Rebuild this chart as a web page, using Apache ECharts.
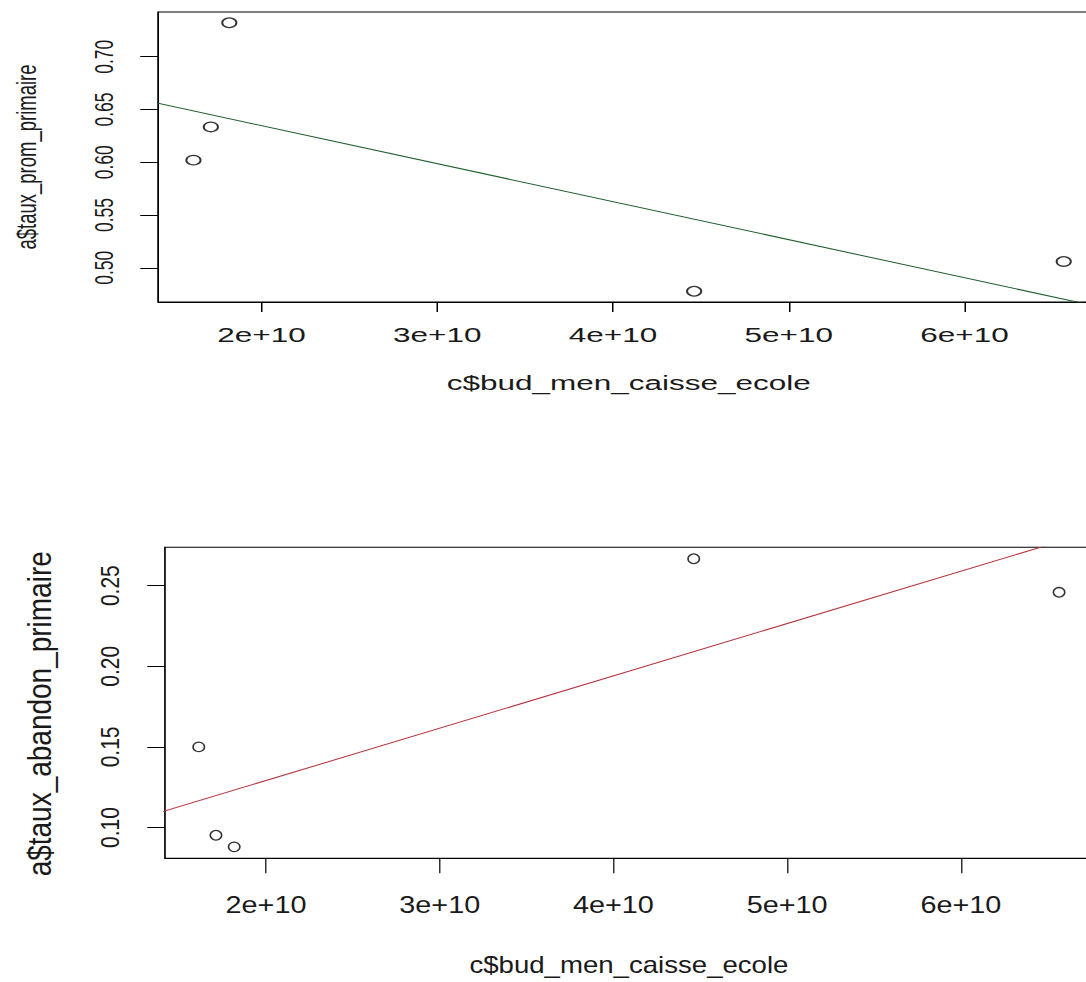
<!DOCTYPE html>
<html>
<head>
<meta charset="utf-8">
<title>bud_men_caisse_ecole</title>
<style>
	html, body { margin: 0; padding: 0; background: #fff; overflow: hidden; }
	#wrap { position: relative; width: 1086px; height: 982px; overflow: hidden; }
	/* the picture is stretched sideways: each chart is drawn narrower, then scaled back */
	.chart { position: absolute; left: 0; transform-origin: 0 0; }
	#chartProm { top: 0; width: 724px; height: 470px; transform: scaleX(1.5); }
	#chartAbandon { top: 470px; width: 905px; height: 512px; transform: scaleX(1.2); }
</style>
<script src="https://cdn.jsdelivr.net/npm/echarts@6.0.0/dist/echarts.min.js"></script>
</head>
<body>
<div id="wrap">
	<div class="chart" id="chartProm"></div>
	<div class="chart" id="chartAbandon"></div>
</div>
<script>
/*******************************/
/*data*/
/*******************************/
//c$bud_men_caisse_ecole (same x for both plots)
var budMen = [1.613e10, 1.712e10, 1.817e10, 4.462e10, 6.565e10];
//a$taux_prom_primaire
var tauxProm = [0.602, 0.6335, 0.7322, 0.4778, 0.506];
//a$taux_abandon_primaire
var tauxAbandon = [0.150, 0.0952, 0.088, 0.2667, 0.2459];
//abline ends (clipped by the plot box)
var fitX = [1.0e10, 7.0e10];
var fitProm = [0.6708, 0.4546];
var fitAbandon = [0.0967, 0.2914];
//ticks
var xTicks = [2e10, 3e10, 4e10, 5e10, 6e10];
var xTickLabels = ['2e+10', '3e+10', '4e+10', '5e+10', '6e+10'];
var promTicks = [0.50, 0.55, 0.60, 0.65, 0.70];
var promTickLabels = ['0.50', '0.55', '0.60', '0.65', '0.70'];
var abandonTicks = [0.10, 0.15, 0.20, 0.25];
var abandonTickLabels = ['0.10', '0.15', '0.20', '0.25'];

var FONT = '"Liberation Sans", Arial, sans-serif';
var INK = '#1a1a1a';

/*******************************/
/*run on load*/
/*******************************/
window.onload = function () {
	promChart();
	abandonChart();
};

/*
**label of the tick closest to a value
*/
function pickLabel(ticks, labels, v) {
	var best = 0;
	ticks.forEach(function (t, i) {
		if (Math.abs(t - v) < Math.abs(ticks[best] - v)) best = i;
	});
	return labels[best];
}

/*
**one R style panel: box, outside ticks, points and abline
*/
function panelOption(p) {
	return {
		animation: false,
		grid: {
			left: p.left, right: p.right, top: p.top, bottom: p.bottom,
			//keep the box where it is set, labels may go to the edge
			outerBoundsMode: 'none',
			show: true, borderColor: '#000', borderWidth: 1
		},
		xAxis: {
			type: 'value', min: p.xMin, max: p.xMax,
			name: 'c$bud_men_caisse_ecole', nameLocation: 'middle', nameGap: p.xNameGap,
			nameTextStyle: { fontFamily: FONT, fontSize: p.xNameSize, color: INK },
			axisLine: { show: true, onZero: false, lineStyle: { color: '#000', width: 1 } },
			axisTick: { show: true, length: p.xTickLen, customValues: xTicks, lineStyle: { color: '#000' } },
			axisLabel: {
				customValues: xTicks, margin: p.xLabelMargin,
				fontFamily: FONT, fontSize: p.xLabelSize, color: INK,
				formatter: function (v) { return pickLabel(xTicks, xTickLabels, v); }
			},
			splitLine: { show: false }
		},
		yAxis: {
			type: 'value', min: p.yMin, max: p.yMax,
			name: p.yName, nameLocation: 'middle', nameGap: p.yNameGap,
			nameTextStyle: { fontFamily: FONT, fontSize: p.yNameSize, color: INK, padding: p.yNamePad },
			axisLine: { show: true, onZero: false, lineStyle: { color: '#000', width: 1 } },
			axisTick: { show: true, length: p.yTickLen, customValues: p.yTicks, lineStyle: { color: '#000' } },
			axisLabel: {
				customValues: p.yTicks, rotate: 90, margin: p.yLabelMargin,
				fontFamily: FONT, fontSize: p.yLabelSize, color: INK,
				formatter: function (v) { return pickLabel(p.yTicks, p.yTickLabels, v); }
			},
			splitLine: { show: false }
		},
		series: [
			{
				type: 'scatter',
				symbol: 'circle',
				symbolSize: 9.5,
				itemStyle: { color: 'rgba(0,0,0,0)', borderColor: '#000', borderWidth: 1.3 },
				data: budMen.map(function (x, i) { return [x, p.yData[i]]; })
			},
			{
				type: 'line',
				symbol: 'none',
				clip: true,
				lineStyle: { color: p.fitColor, width: 1 },
				data: fitX.map(function (x, i) { return [x, p.fitY[i]]; })
			}
		]
	};
}

/*
**top panel: taux_prom_primaire
*/
function promChart() {
	setOption('chartProm', panelOption({
		left: 105.5, right: -8.7, top: 12, bottom: 168,
		xMin: 1.4127e10, xMax: 6.766e10,
		xNameGap: 70, xNameSize: 21, xTickLen: 10, xLabelMargin: 22, xLabelSize: 21,
		yMin: 0.4676, yMax: 0.7424,
		yName: 'a$taux_prom_primaire', yNameGap: 78, yNameSize: 18.5, yNamePad: 0,
		yTicks: promTicks, yTickLabels: promTickLabels,
		yTickLen: 12, yLabelMargin: 27, yLabelSize: 17.5,
		yData: tauxProm, fitY: fitProm, fitColor: '#1e5f2c'
	}));
}

/*
**bottom panel: taux_abandon_primaire
*/
function abandonChart() {
	setOption('chartAbandon', panelOption({
		left: 137.4, right: -5.8, top: 77.3, bottom: 123.7,
		xMin: 1.418e10, xMax: 6.76e10,
		xNameGap: 95, xNameSize: 23, xTickLen: 15, xLabelMargin: 35, xLabelSize: 24,
		yMin: 0.0809, yMax: 0.2738,
		yName: 'a$taux_abandon_primaire', yNameGap: 90, yNameSize: 28, yNamePad: [0, 22, 0, 0],
		yTicks: abandonTicks, yTickLabels: abandonTickLabels,
		yTickLen: 14.7, yLabelMargin: 35, yLabelSize: 21,
		yData: tauxAbandon, fitY: fitAbandon, fitColor: '#b5343c'
	}));
}

/*
**init a chart in svg (it is scaled by css) and set its option
*/
function setOption(ident, opt) {
	var myChart = echarts.init(document.getElementById(ident), null, { renderer: 'svg' });
	myChart.setOption(opt);
}
</script>
</body>
</html>
